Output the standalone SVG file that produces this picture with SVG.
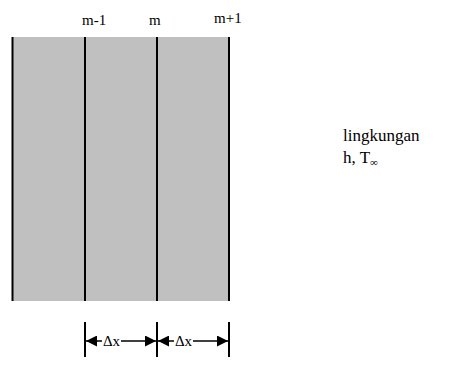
<svg xmlns="http://www.w3.org/2000/svg" width="466" height="373" viewBox="0 0 466 373">
<style>
text{font-family:'Liberation Serif','Times New Roman','DejaVu Serif',serif;fill:#000}
.ln{stroke:#000;stroke-width:2;fill:none}
.dim{stroke:#000;stroke-width:1.5;fill:none}
</style>
<defs>
<marker id="ah" viewBox="0 0 10 10" refX="10" refY="5" markerWidth="13" markerHeight="11" markerUnits="userSpaceOnUse" orient="auto-start-reverse">
<path d="M0,0 L10,5 L0,10 Z" fill="#000"/>
</marker>
</defs>
<g id="wall">
<rect x="12" y="37" width="217" height="264" fill="#c0c0c0"/>
<line class="ln" x1="12.5" y1="37" x2="12.5" y2="301"/>
<line class="ln" x1="85" y1="37" x2="85" y2="301"/>
<line class="ln" x1="157" y1="37" x2="157" y2="301"/>
<line class="ln" x1="229" y1="37" x2="229" y2="301"/>
</g>
<g id="labels">
<text x="82" y="25" font-size="15">m-1</text>
<text x="149" y="25" font-size="15">m</text>
<text x="214" y="23" font-size="15">m+1</text>
</g>
<g id="env">
<text x="343" y="141" font-size="17">lingkungan</text>
<text x="343" y="163" font-size="17">h, T<tspan font-size="11" dy="3">∞</tspan></text>
</g>
<g id="connectors">
<line class="ln" x1="85" y1="322" x2="85" y2="357"/>
<line class="ln" x1="157" y1="322" x2="157" y2="357"/>
<line class="ln" x1="229" y1="322" x2="229" y2="357"/>
<line class="dim" x1="86" y1="341" x2="102" y2="341" marker-start="url(#ah)"/>
<line class="dim" x1="121" y1="341" x2="156" y2="341" marker-end="url(#ah)"/>
<line class="dim" x1="158" y1="341" x2="174" y2="341" marker-start="url(#ah)"/>
<line class="dim" x1="193" y1="341" x2="228" y2="341" marker-end="url(#ah)"/>
<text x="111.5" y="346" font-size="15" text-anchor="middle">Δx</text>
<text x="183.5" y="346" font-size="15" text-anchor="middle">Δx</text>
</g>
</svg>
